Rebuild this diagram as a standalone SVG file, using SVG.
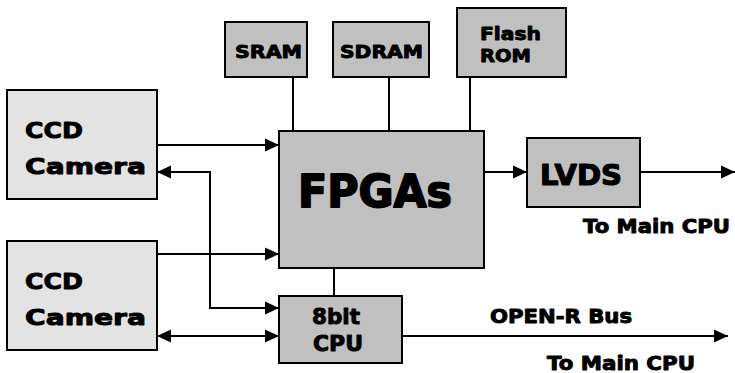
<svg xmlns="http://www.w3.org/2000/svg" width="735" height="373" viewBox="0 0 735 373">
<style>
.box{fill:#c0c0c0;stroke:#000;stroke-width:2}
.cam{fill:#e3e3e3;stroke:#000;stroke-width:2}
.ln{fill:none;stroke:#000;stroke-width:2}
text{font-family:"DejaVu Sans","Liberation Sans",sans-serif;font-weight:bold;fill:#000;stroke:#000;stroke-width:0.9;stroke-linejoin:round}
.big{stroke-width:1.8}
</style>
<defs>
<marker id="ah" markerUnits="userSpaceOnUse" markerWidth="14" markerHeight="14" refX="14" refY="7" orient="auto-start-reverse" viewBox="0 0 14 14">
<path d="M0,0.5 L14,7 L0,13.5 Z" fill="#000"/>
</marker>
</defs>
<g id="connectors">
<line class="ln" x1="293" y1="77" x2="293" y2="131"/>
<line class="ln" x1="389" y1="77" x2="389" y2="131"/>
<line class="ln" x1="470" y1="77" x2="470" y2="131"/>
<line class="ln" x1="334" y1="268" x2="334" y2="296"/>
<line class="ln" x1="157" y1="145" x2="279" y2="145" marker-end="url(#ah)"/>
<line class="ln" x1="157" y1="254" x2="279" y2="254" marker-end="url(#ah)"/>
<path class="ln" d="M157,172 H210 V308 H279" marker-start="url(#ah)" marker-end="url(#ah)"/>
<line class="ln" x1="157" y1="336" x2="279" y2="336" marker-start="url(#ah)" marker-end="url(#ah)"/>
<line class="ln" x1="484" y1="172" x2="527" y2="172" marker-end="url(#ah)"/>
<line class="ln" x1="640" y1="172" x2="735" y2="172" marker-end="url(#ah)"/>
<line class="ln" x1="402" y1="336" x2="728" y2="336" marker-end="url(#ah)"/>
<text x="490" y="323" font-size="19" textLength="142" lengthAdjust="spacingAndGlyphs">OPEN-R Bus</text>
<text x="583" y="233" font-size="19" textLength="147" lengthAdjust="spacingAndGlyphs">To Main CPU</text>
<text x="547" y="370" font-size="19" textLength="148" lengthAdjust="spacingAndGlyphs">To Main CPU</text>
</g>
<g id="sram">
<rect class="box" x="225" y="22" width="82" height="55"/>
<text x="235" y="58" font-size="18" textLength="67" lengthAdjust="spacingAndGlyphs">SRAM</text>
</g>
<g id="sdram">
<rect class="box" x="333" y="22" width="96" height="55"/>
<text x="340" y="58" font-size="18" textLength="83" lengthAdjust="spacingAndGlyphs">SDRAM</text>
</g>
<g id="flashrom">
<rect class="box" x="457" y="8" width="109" height="69"/>
<text x="480" y="40" font-size="18" textLength="61" lengthAdjust="spacingAndGlyphs">Flash</text>
<text x="480" y="62" font-size="18" textLength="51" lengthAdjust="spacingAndGlyphs">ROM</text>
</g>
<g id="camera1">
<rect class="cam" x="7" y="90" width="150" height="109"/>
<text x="25" y="138" font-size="22" textLength="58" lengthAdjust="spacingAndGlyphs">CCD</text>
<text x="25" y="174" font-size="22" textLength="121" lengthAdjust="spacingAndGlyphs">Camera</text>
</g>
<g id="camera2">
<rect class="cam" x="7" y="241" width="150" height="109"/>
<text x="25" y="289" font-size="22" textLength="58" lengthAdjust="spacingAndGlyphs">CCD</text>
<text x="25" y="325" font-size="22" textLength="121" lengthAdjust="spacingAndGlyphs">Camera</text>
</g>
<g id="fpga">
<rect class="box" x="279" y="131" width="205" height="137"/>
<text class="big" x="298" y="207" font-size="44" textLength="154" lengthAdjust="spacingAndGlyphs">FPGAs</text>
</g>
<g id="lvds">
<rect class="box" x="527" y="138" width="113" height="69"/>
<text x="540" y="185" font-size="28" textLength="82" lengthAdjust="spacingAndGlyphs" style="stroke-width:1.2">LVDS</text>
</g>
<g id="cpu">
<rect class="box" x="279" y="296" width="123" height="67"/>
<text x="312" y="324" font-size="21" textLength="48" lengthAdjust="spacingAndGlyphs">8bit</text>
<text x="313" y="351" font-size="21" textLength="50" lengthAdjust="spacingAndGlyphs">CPU</text>
</g>
</svg>
